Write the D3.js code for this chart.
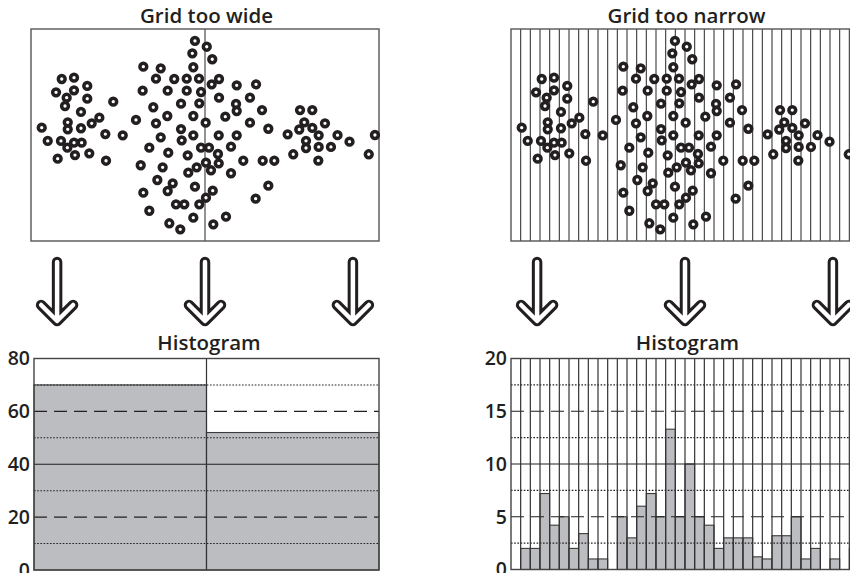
<!DOCTYPE html>
<html>
<head>
<meta charset="utf-8">
<script src="https://cdn.jsdelivr.net/npm/d3@7"></script>
<style>
  html, body { margin: 0; padding: 0; background: #fff; }
  svg { display: block; }
  text { font-family: "Open Sans", "Noto Sans", sans-serif; font-weight: 600; fill: #231f20; }
</style>
</head>
<body>
<svg id="chart" width="850" height="573"></svg>
<script>
// ---------------- DATA ----------------
// scatter points, x in grid units (0..36), y in arbitrary units (0..22)
const pointX = [
  3.18,4.45,5.82,2.59,4.45,3.69,5.82,3.52,8.51,5.17,7.07,6.28,3.80,3.80,5.17,1.11,7.69,9.49,1.73,3.10,4.45,5.24,3.76,4.55,2.76,6.03,7.76,
  16.96,18.18,16.69,18.75,16.79,11.62,13.42,12.93,14.82,16.11,17.38,19.45,18.69,21.28,23.28,11.55,14.14,16.11,17.59,19.45,22.65,15.52,17.41,21.21,
  21.28,23.90,12.65,14.10,16.79,20.10,10.86,12.93,18.07,22.65,15.52,24.55,13.42,15.59,16.79,19.42,21.28,12.24,17.59,18.41,20.69,14.20,16.21,19.34,
  19.42,18.10,21.96,23.97,25.17,11.35,13.62,17.14,18.62,16.27,20.69,13.07,14.66,14.14,16.96,24.55,18.80,11.62,18.10,23.24,15.00,15.86,17.41,12.24,
  16.79,20.17,14.31,18.86,15.44,
  27.83,29.10,28.27,30.41,27.75,29.10,26.55,29.76,31.71,32.95,35.58,28.45,28.45,29.76,31.03,27.13,34.94,29.72
];
const pointY = [
  16.81,16.95,16.09,15.43,15.64,14.87,14.77,14.01,14.46,13.39,12.80,12.21,12.32,11.59,11.70,11.76,11.10,10.97,10.38,10.38,10.20,10.20,9.68,8.92,8.54,9.10,8.33,
  20.76,20.16,19.48,18.86,18.03,18.09,17.92,16.84,16.81,16.84,16.84,16.81,16.26,16.16,16.26,15.60,15.60,15.60,15.46,14.87,14.87,14.25,14.29,14.22,
  13.49,13.59,13.88,12.97,12.97,12.90,12.56,12.21,12.28,12.28,11.62,11.65,10.76,10.45,10.97,10.97,10.97,9.68,9.68,9.68,9.79,9.16,8.89,9.03,
  8.06,8.13,8.33,8.33,8.33,7.86,7.65,7.65,7.34,7.09,7.03,6.33,5.99,5.19,5.64,5.74,5.22,5.01,4.49,4.39,3.81,3.81,3.81,3.14,
  2.42,2.52,1.84,1.73,1.21,
  13.59,13.59,12.32,12.21,11.57,11.73,11.07,10.97,10.98,10.31,11.00,10.40,9.65,9.76,9.76,9.00,9.00,8.35
];

// histogram counts
const wideCounts = [70, 52];
const narrowCounts = [0,2,2,7.2,4.2,5,2,3.4,1,1,0,5,3,6,7.2,5,13.3,5,10,5,4.2,2,3,3,3,1.2,1,3.2,3.2,5,1,2,0,1,0,2];

// tick labels
const wideTicks = [0, 20, 40, 60, 80];
const narrowTicks = [0, 5, 10, 15, 20];

// reference lines: solid, dashed, dotted
const wideSolid = [40], wideDashed = [20, 60], wideDotted = [10, 30, 50, 70];
const narrowSolid = [10], narrowDashed = [5, 15], narrowDotted = [2.5, 7.5, 12.5, 17.5];

const titles = ["Grid too wide", "Grid too narrow"];
const histTitle = "Histogram";
const arrowAt = [2.7, 18, 33.3]; // in grid units

// ---------------- DRAW ----------------
const svg = d3.select("#chart");
const ink = "#231f20";

const panels = [
  { dx: 0,   title: titles[0], counts: wideCounts,   ticks: wideTicks,   ymax: 80,
    solid: wideSolid, dashed: wideDashed, dotted: wideDotted, hx0: 34, hy0: 570 },
  { dx: 480, title: titles[1], counts: narrowCounts, ticks: narrowTicks, ymax: 20,
    solid: narrowSolid, dashed: narrowDashed, dotted: narrowDotted, hx0: 31, hy0: 569.5 }
];

const points = pointX.map((x, i) => ({ x, y: pointY[i] }));

panels.forEach(p => {
  const g = svg.append("g").attr("transform", `translate(${p.dx},0)`);
  const nb = p.counts.length;

  // ---- scatter ----
  const x = d3.scaleLinear().domain([0, 36]).range([31, 379]);
  const y = d3.scaleLinear().domain([0, 22]).range([241, 29]);

  g.append("text")
    .attr("x", x(18) + 1.5).attr("y", 23)
    .attr("text-anchor", "middle")
    .attr("font-size", 20.5)
    .text(p.title);

  g.append("rect")
    .attr("x", x(0)).attr("y", y(22))
    .attr("width", x(36) - x(0)).attr("height", y(0) - y(22))
    .attr("fill", "#fff");

  const edges = d3.range(1, nb).map(i => i * 36 / nb);
  g.selectAll("line.vg").data(edges).join("line")
    .attr("x1", d => x(d)).attr("x2", d => x(d))
    .attr("y1", y(22)).attr("y2", y(0))
    .attr("stroke", "#3a3a3a").attr("stroke-width", 1.1);

  g.append("rect")
    .attr("x", x(0)).attr("y", y(22))
    .attr("width", x(36) - x(0)).attr("height", y(0) - y(22))
    .attr("fill", "none").attr("stroke", "#555").attr("stroke-width", 1.4);

  g.selectAll("circle.pt").data(points).join("circle")
    .attr("cx", d => x(d.x)).attr("cy", d => y(d.y))
    .attr("r", 3.4)
    .attr("fill", "#fff").attr("stroke", ink).attr("stroke-width", 3.5);

  // ---- arrows ----
  arrowAt.forEach(a => {
    const cx = x(a);
    const d = `M${cx},262 L${cx},320 M${cx - 16},305 L${cx},321 L${cx + 16},305`;
    g.append("path").attr("d", d).attr("fill", "none")
      .attr("stroke", ink).attr("stroke-width", 10.5)
      .attr("stroke-linecap", "round").attr("stroke-linejoin", "round");
    g.append("path").attr("d", d).attr("fill", "none")
      .attr("stroke", "#fff").attr("stroke-width", 4.5)
      .attr("stroke-linecap", "round").attr("stroke-linejoin", "round");
  });

  // ---- histogram ----
  const hx = d3.scaleLinear().domain([0, nb]).range([p.hx0, 379]);
  const hy = d3.scaleLinear().domain([0, p.ymax]).range([p.hy0, 358.5]);

  g.append("text")
    .attr("x", (hx(0) + hx(nb)) / 2 + 2.5).attr("y", 350)
    .attr("text-anchor", "middle")
    .attr("font-size", 20.5)
    .text(histTitle);

  g.append("rect")
    .attr("x", hx(0)).attr("y", hy(p.ymax))
    .attr("width", hx(nb) - hx(0)).attr("height", hy(0) - hy(p.ymax))
    .attr("fill", "#fff");

  g.selectAll("rect.bar").data(p.counts).join("rect")
    .attr("class", "bar")
    .attr("x", (d, i) => hx(i)).attr("width", (d, i) => hx(i + 1) - hx(i))
    .attr("y", d => hy(d)).attr("height", d => hy(0) - hy(d))
    .attr("fill", "#bcbdc0")
    .attr("stroke", d => d > 0 ? "#3a3a3a" : "none").attr("stroke-width", 1.1);

  const refLine = (vals, dash, w) => {
    g.selectAll(null).data(vals).join("line")
      .attr("x1", hx(0)).attr("x2", hx(nb))
      .attr("y1", d => hy(d)).attr("y2", d => hy(d))
      .attr("stroke", ink).attr("stroke-width", w)
      .attr("stroke-dasharray", dash);
  };
  refLine(p.dotted, "1.6,1.6", 1.1);
  refLine(p.dashed, "13,7", 1.1);
  refLine(p.solid, null, 1.2);

  const hedges = d3.range(1, nb);
  g.selectAll(null).data(hedges).join("line")
    .attr("x1", d => hx(d)).attr("x2", d => hx(d))
    .attr("y1", hy(p.ymax)).attr("y2", hy(0))
    .attr("stroke", "#333").attr("stroke-width", 1.2);

  g.append("rect")
    .attr("x", hx(0)).attr("y", hy(p.ymax))
    .attr("width", hx(nb) - hx(0)).attr("height", hy(0) - hy(p.ymax))
    .attr("fill", "none").attr("stroke", "#444").attr("stroke-width", 1.4);

  // y axis labels
  const axis = d3.axisLeft(hy).tickValues(p.ticks).tickSize(0).tickPadding(4);
  const ag = g.append("g").attr("transform", `translate(${hx(0)},0)`).call(axis);
  ag.select(".domain").remove();
  ag.selectAll("text")
    .attr("font-size", 19.5)
    .attr("font-family", '"Open Sans", "Noto Sans", sans-serif')
    .attr("font-weight", 600)
    .attr("fill", ink);
});
</script>
</body>
</html>
